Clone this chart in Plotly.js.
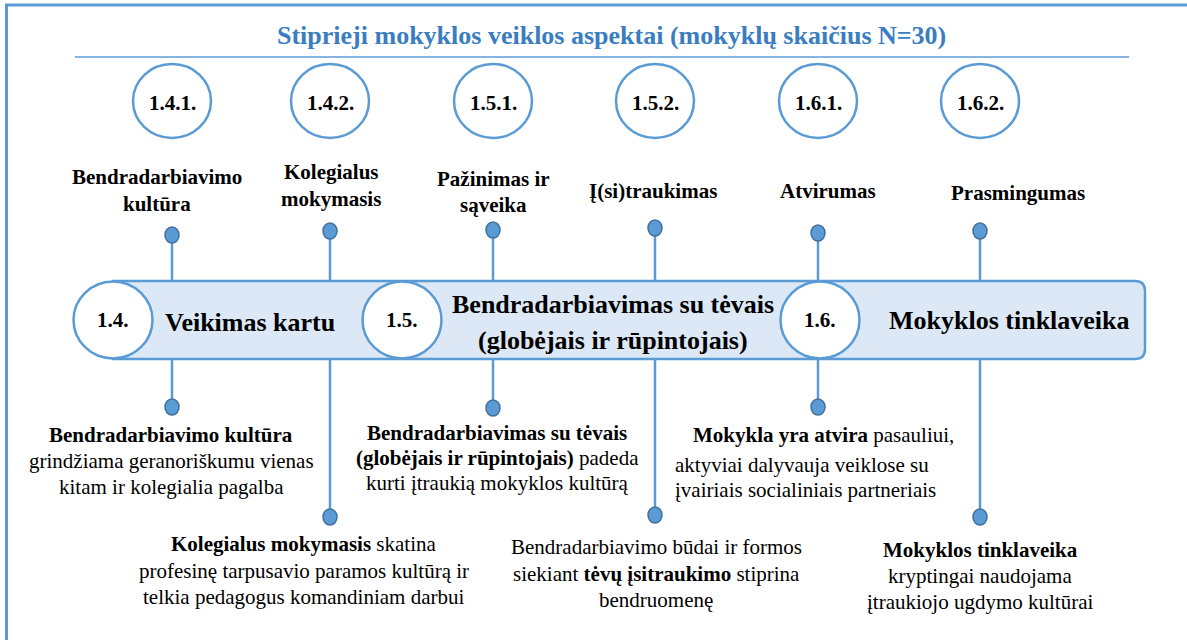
<!DOCTYPE html>
<html>
<head>
<meta charset="utf-8">
<script src="https://cdn.plot.ly/plotly-3.0.1.min.js"></script>
</head>
<body style="margin:0;padding:0;position:relative">
<div id="chart"></div>
<div id="fontwarm" style="position:absolute;left:0;top:0;color:transparent;font-family:'Liberation Serif';font-size:21px;pointer-events:none;z-index:-1">Aa <b>Bb</b></div>
<script>
// ---------- DATA ----------
const chartTitle = "Stiprieji mokyklos veiklos aspektai (mokyklų skaičius N=30)";
const aspectCodes = ["1.4.1.", "1.4.2.", "1.5.1.", "1.5.2.", "1.6.1.", "1.6.2."];
const aspectLabels = [
  ["Bendradarbiavimo", "kultūra"],
  ["Kolegialus", "mokymasis"],
  ["Pažinimas ir", "sąveika"],
  ["Į(si)traukimas"],
  ["Atvirumas"],
  ["Prasmingumas"]
];
const groupCodes = ["1.4.", "1.5.", "1.6."];
const groupNames = [
  ["Veikimas kartu"],
  ["Bendradarbiavimas su tėvais", "(globėjais ir rūpintojais)"],
  ["Mokyklos tinklaveika"]
];
const aspectDescriptions = [
  ["<b>Bendradarbiavimo kultūra</b>", "grindžiama geranoriškumu vienas", "kitam ir kolegialia pagalba"],
  ["<b>Kolegialus mokymasis</b> skatina", "profesinę tarpusavio paramos kultūrą ir", "telkia pedagogus komandiniam darbui"],
  ["<b>Bendradarbiavimas su tėvais</b>", "<b>(globėjais ir rūpintojais)</b> padeda", "kurti įtraukią mokyklos kultūrą"],
  ["Bendradarbiavimo būdai ir formos", "siekiant <b>tėvų įsitraukimo</b> stiprina", "bendruomenę"],
  ["<b>Mokykla yra atvira</b> pasauliui,", "aktyviai dalyvauja veiklose su", "įvairiais socialiniais partneriais"],
  ["<b>Mokyklos tinklaveika</b>", "kryptingai naudojama", "įtraukiojo ugdymo kultūrai"]
];

// ---------- GEOMETRY (layout only) ----------
const G = {
  slotX: [172, 330, 493, 655, 818, 980],
  topCircleY: 101, circRx: 39, circRy: 37,
  labelX: [157, 331, 493, 653, 828, 1018],
  labelY: [[177, 204], [172, 199], [179, 205], [191], [191], [193]],
  topDotY: [235, 231, 230, 228, 233, 231],
  botDotY: [407, 517, 408, 515, 407, 517],
  dotRx: 7, dotRy: 8,
  bandTop: 281, bandBot: 359, bandLeft: 113, bandRight: 1145, bandR: 10,
  groupX: [113, 402, 820], groupY: 320, gRx: 39.5, gRy: 38.5,
  groupTextX: [250, 613, 1009], groupTextY: [[322], [304, 340], [320]],
  descX: [[171,171,171], [304,304,304], [497,497,497], [656,656,656], [691,673,673], [980,980,980]],
  descAnchor: ["center", "center", "center", "center", "left", "center"],
  descY: [[435, 461, 487], [544, 571, 597], [433, 458, 483], [547, 574, 600], [435, 465, 490], [550, 576, 602]]
};

const BLUE = "#5b9bd5", DARK = "#41719c", FILL = "#dce8f5", TITLE = "#3a7dc1";
const SERIF = "Liberation Serif";

function draw() {
  const shapes = [];
  const annotations = [];

  // frame (top and left edges)
  shapes.push({type: "line", x0: 5, x1: 1187, y0: 5, y1: 5, line: {color: BLUE, width: 3}});
  shapes.push({type: "line", x0: 6.5, x1: 6.5, y0: 5, y1: 640, line: {color: BLUE, width: 3}});
  // title underline
  shapes.push({type: "line", x0: 75, x1: 1129, y0: 57, y1: 57, line: {color: BLUE, width: 1.5}});

  annotations.push({x: 611, y: 35, text: "<b>" + chartTitle + "</b>", showarrow: false,
    font: {family: SERIF, size: 26, color: TITLE}, xanchor: "center", yanchor: "middle"});

  // connectors
  aspectCodes.forEach((c, i) => {
    const x = G.slotX[i];
    shapes.push({type: "line", x0: x, x1: x, y0: G.topDotY[i], y1: G.bandTop, line: {color: BLUE, width: 2.5}});
    shapes.push({type: "line", x0: x, x1: x, y0: G.bandBot, y1: G.botDotY[i], line: {color: BLUE, width: 2.5}});
  });

  // band
  const b = G;
  shapes.push({type: "path",
    path: `M ${b.bandLeft} ${b.bandTop} L ${b.bandRight - b.bandR} ${b.bandTop} Q ${b.bandRight} ${b.bandTop} ${b.bandRight} ${b.bandTop + b.bandR} L ${b.bandRight} ${b.bandBot - b.bandR} Q ${b.bandRight} ${b.bandBot} ${b.bandRight - b.bandR} ${b.bandBot} L ${b.bandLeft} ${b.bandBot} Z`,
    fillcolor: FILL, line: {color: BLUE, width: 2.5}});

  // group circles + names
  groupCodes.forEach((c, i) => {
    const x = G.groupX[i];
    shapes.push({type: "circle", x0: x - G.gRx, x1: x + G.gRx, y0: G.groupY - G.gRy, y1: G.groupY + G.gRy,
      fillcolor: "#ffffff", line: {color: BLUE, width: 2.5}});
    annotations.push({x: x, y: G.groupY, text: "<b>" + c + "</b>", showarrow: false,
      font: {family: SERIF, size: 21, color: "#000"}, xanchor: "center", yanchor: "middle"});
    groupNames[i].forEach((ln, k) => {
      annotations.push({x: G.groupTextX[i], y: G.groupTextY[i][k], text: "<b>" + ln + "</b>", showarrow: false,
        font: {family: SERIF, size: 26, color: "#000"}, xanchor: "center", yanchor: "middle"});
    });
  });

  // top circles, labels, dots, descriptions
  aspectCodes.forEach((c, i) => {
    const x = G.slotX[i];
    shapes.push({type: "circle", x0: x - G.circRx, x1: x + G.circRx, y0: G.topCircleY - G.circRy, y1: G.topCircleY + G.circRy,
      fillcolor: "#ffffff", line: {color: BLUE, width: 2.5}});
    annotations.push({x: x, y: G.topCircleY + 2, text: "<b>" + c + "</b>", showarrow: false,
      font: {family: SERIF, size: 21, color: "#000"}, xanchor: "center", yanchor: "middle"});
    aspectLabels[i].forEach((ln, k) => {
      annotations.push({x: G.labelX[i], y: G.labelY[i][k], text: "<b>" + ln + "</b>", showarrow: false,
        font: {family: SERIF, size: 21, color: "#000"}, xanchor: "center", yanchor: "middle"});
    });
    [G.topDotY[i], G.botDotY[i]].forEach(dy => {
      shapes.push({type: "circle", x0: x - G.dotRx, x1: x + G.dotRx, y0: dy - G.dotRy, y1: dy + G.dotRy,
        fillcolor: BLUE, line: {color: DARK, width: 1.5}});
    });
    aspectDescriptions[i].forEach((ln, k) => {
      annotations.push({x: G.descX[i][k], y: G.descY[i][k], text: ln, showarrow: false,
        font: {family: SERIF, size: 21, color: "#000"}, xanchor: G.descAnchor[i], yanchor: "middle"});
    });
  });

  const layout = {
    width: 1187, height: 640,
    margin: {l: 0, r: 0, t: 0, b: 0, pad: 0},
    paper_bgcolor: "rgba(255,255,255,1)", plot_bgcolor: "rgba(255,255,255,1)",
    showlegend: false,
    font: {family: SERIF, size: 21, color: "#000"},
    xaxis: {range: [0, 1187], visible: false},
    yaxis: {range: [640, 0], visible: false},
    shapes: shapes,
    annotations: annotations
  };

  Plotly.newPlot("chart", [], layout, {displayModeBar: false});
}

if (document.fonts && document.fonts.load) {
  Promise.all([
    document.fonts.load('21px "Liberation Serif"'),
    document.fonts.load('bold 21px "Liberation Serif"')
  ]).then(draw, draw);
} else {
  draw();
}
</script>
</body>
</html>
